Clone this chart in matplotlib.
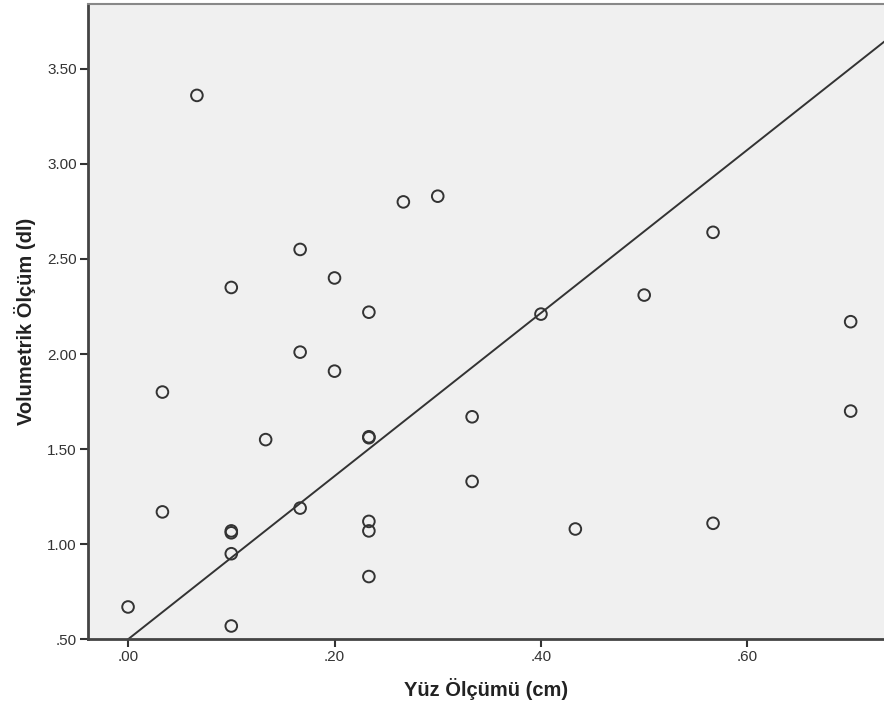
import matplotlib
matplotlib.use("Agg")
import matplotlib.pyplot as plt
from matplotlib.ticker import FuncFormatter
import numpy as np

plt.rcParams["font.family"] = ["Liberation Sans", "DejaVu Sans"]

# values
yuz = [0.0, 0.0333, 0.0333, 0.0667, 0.1, 0.1, 0.1, 0.1, 0.1, 0.1333,
       0.1667, 0.1667, 0.1667, 0.2, 0.2, 0.2333, 0.2333, 0.2333, 0.2333,
       0.2333, 0.2333, 0.2667, 0.3, 0.3333, 0.3333, 0.4, 0.4333, 0.5,
       0.5667, 0.5667, 0.7, 0.7]
volumetrik = [0.67, 1.80, 1.17, 3.36, 2.35, 1.07, 1.06, 0.95, 0.57, 1.55,
              2.55, 2.01, 1.19, 2.40, 1.91, 2.22, 1.56, 1.565, 1.12,
              1.07, 0.83, 2.80, 2.83, 1.67, 1.33, 2.21, 1.08, 2.31,
              2.64, 1.11, 2.17, 1.70]

# reference line drawn on the chart
line_intercept = 0.5
line_slope = 4.29

x_ticks = [0.0, 0.2, 0.4, 0.6]
y_ticks = [0.5, 1.0, 1.5, 2.0, 2.5, 3.0, 3.5]


def spss_fmt(v, pos):
    s = f"{v:.2f}"
    if s.startswith("0"):
        s = s[1:]
    return s


fig = plt.figure(figsize=(8.84, 7.12), dpi=100)
ax = fig.add_axes([88 / 884, 1 - 639.3 / 712, 1 - 88 / 884, (639.3 - 4.3) / 712])
ax.set_facecolor("#f0f0f0")

ax.scatter(yuz, volumetrik, s=70, facecolors="none", edgecolors="#333333",
           linewidths=1.4, zorder=3)
ax.axline((0, line_intercept), slope=line_slope, color="#333333", lw=1.4, zorder=2)

ax.set_xlim(-0.0388, 0.7323)
ax.set_ylim(0.5, 3.839)
ax.set_xticks(x_ticks)
ax.set_yticks(y_ticks)
ax.xaxis.set_major_formatter(FuncFormatter(spss_fmt))
ax.yaxis.set_major_formatter(FuncFormatter(spss_fmt))
ax.tick_params(axis="both", direction="out", length=6, width=1.5,
               color="#333333", labelcolor="#333333", labelsize=11, pad=2)

for side in ["left", "bottom"]:
    ax.spines[side].set_color("#444444")
    ax.spines[side].set_linewidth(2)
ax.spines["top"].set_color("#888888")
ax.spines["top"].set_linewidth(1.5)
ax.spines["right"].set_visible(False)

ax.set_xlabel("Yüz Ölçümü (cm)", fontsize=14.5, fontweight="bold",
              color="#222222", labelpad=10)
ax.set_ylabel("Volumetrik Ölçüm (dl)", fontsize=14.5, fontweight="bold",
              color="#222222", labelpad=8)

fig.savefig("out.png", dpi=100)
